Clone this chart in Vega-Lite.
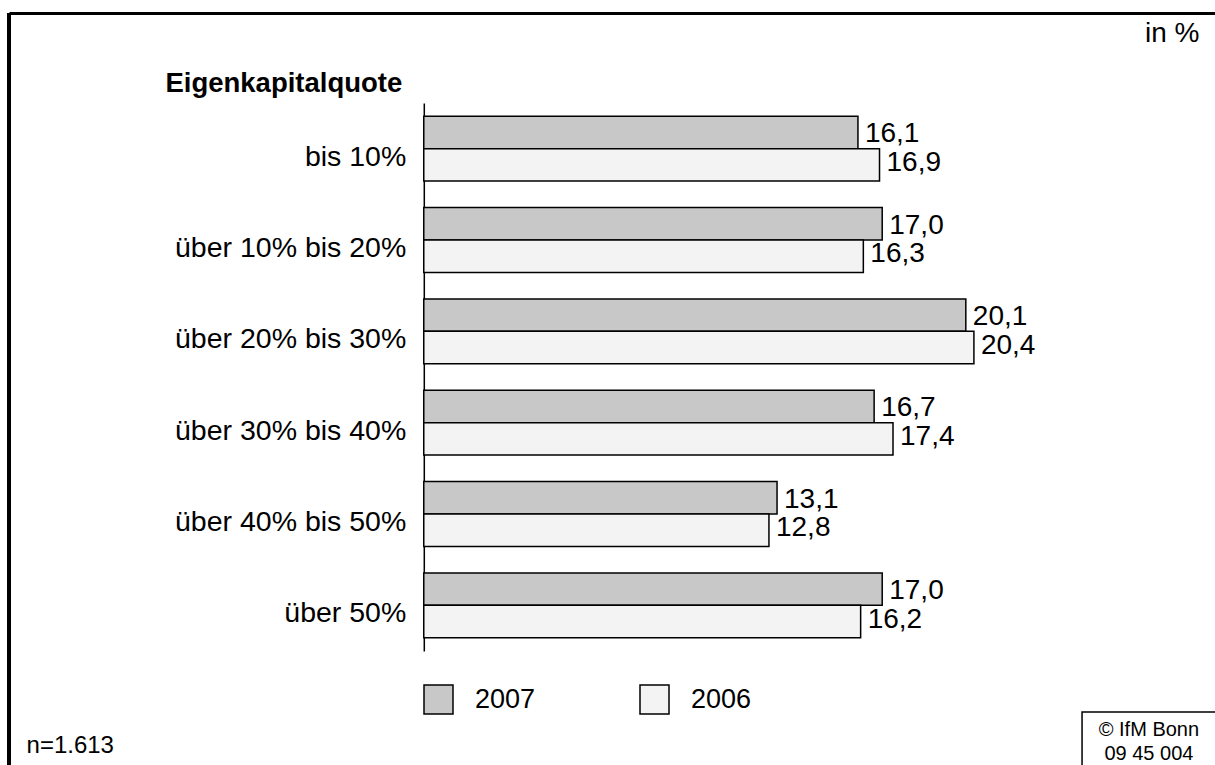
{
  "$schema": "https://vega.github.io/schema/vega-lite/v6.json",
  "width": 1206,
  "height": 752,
  "autosize": {"type": "none"},
  "padding": {"left": 9, "top": 13, "right": 0, "bottom": 0},
  "background": "white",
  "config": {
    "view": {"stroke": null},
    "font": "Liberation Sans",
    "locale": {"number": {"decimal": ",", "thousands": ".", "grouping": [3], "currency": ["", " €"]}},
    "text": {"color": "black"}
  },
  "layer": [
    {
      "data": {"values": [
        {"cat": "bis 10%", "year": "2007", "value": 16.1},
        {"cat": "bis 10%", "year": "2006", "value": 16.9},
        {"cat": "über 10% bis 20%", "year": "2007", "value": 17.0},
        {"cat": "über 10% bis 20%", "year": "2006", "value": 16.3},
        {"cat": "über 20% bis 30%", "year": "2007", "value": 20.1},
        {"cat": "über 20% bis 30%", "year": "2006", "value": 20.4},
        {"cat": "über 30% bis 40%", "year": "2007", "value": 16.7},
        {"cat": "über 30% bis 40%", "year": "2006", "value": 17.4},
        {"cat": "über 40% bis 50%", "year": "2007", "value": 13.1},
        {"cat": "über 40% bis 50%", "year": "2006", "value": 12.8},
        {"cat": "über 50%", "year": "2007", "value": 17.0},
        {"cat": "über 50%", "year": "2006", "value": 16.2}
      ]},
      "layer": [
        {
          "mark": {"type": "bar", "stroke": "black", "strokeWidth": 1.5},
          "encoding": {
            "x": {
              "field": "value", "type": "quantitative",
              "scale": {"domain": [-15.38, 29.34], "nice": false, "zero": false},
              "axis": {
                "orient": "top", "title": "in %", "domain": true, "domainColor": "black", "domainWidth": 3,
                "ticks": false, "labels": false, "grid": false,
                "titleX": 1190, "titleY": 28, "titleAlign": "right", "titleBaseline": "alphabetic",
                "titleFontSize": 28, "titleFontWeight": "normal", "titleColor": "black", "titleFont": "Liberation Sans"
              }
            },
            "y": {
              "field": "cat", "type": "nominal", "sort": null,
              "scale": {
                "domain": ["bis 10%", "über 10% bis 20%", "über 20% bis 30%", "über 30% bis 40%", "über 40% bis 50%", "über 50%"],
                "range": [90, 638], "paddingInner": 0.29, "paddingOuter": 0.145
              },
              "axis": {
                "orient": "left", "offset": -414.8, "title": "Eigenkapitalquote", "titleAngle": 0,
                "titleX": -22, "titleY": 78, "titleAlign": "right", "titleBaseline": "alphabetic",
                "titleFontWeight": "bold", "titleFontSize": 27.5, "titleColor": "black", "titleFont": "Liberation Sans",
                "labelFontSize": 28.5, "labelPadding": 18, "labelOffset": 8, "labelColor": "black", "labelLimit": 500, "labelFont": "Liberation Sans",
                "ticks": false, "domainColor": "black", "domainWidth": 1.5, "grid": false
              }
            },
            "yOffset": {"field": "year", "type": "nominal", "sort": ["2007", "2006"], "scale": {"domain": ["2007", "2006"]}},
            "color": {
              "field": "year", "type": "nominal", "sort": ["2007", "2006"],
              "scale": {"domain": ["2007", "2006"], "range": ["#c8c8c8", "#f3f3f3"]},
              "legend": {
                "orient": "none", "legendX": 414, "legendY": 671, "direction": "horizontal", "title": null,
                "padding": 0, "symbolType": "square", "symbolSize": 841, "symbolStrokeColor": "black",
                "symbolStrokeWidth": 1.5, "symbolOpacity": 1, "labelFontSize": 27, "labelOffset": 21,
                "columnPadding": 101, "labelColor": "black", "labelFont": "Liberation Sans"
              }
            }
          }
        },
        {
          "transform": [{"filter": "datum.year == '2007'"}],
          "mark": {"type": "text", "align": "left", "baseline": "middle", "dx": 7, "dy": 2, "fontSize": 28},
          "encoding": {
            "x": {"field": "value", "type": "quantitative", "scale": {"domain": [-15.38, 29.34], "nice": false, "zero": false}},
            "y": {"field": "cat", "type": "nominal", "sort": null, "scale": {"domain": ["bis 10%", "über 10% bis 20%", "über 20% bis 30%", "über 30% bis 40%", "über 40% bis 50%", "über 50%"]}},
            "yOffset": {"field": "year", "type": "nominal", "sort": ["2007", "2006"], "scale": {"domain": ["2007", "2006"]}},
            "text": {"field": "value", "type": "quantitative", "format": ".1f"}
          }
        },
        {
          "transform": [{"filter": "datum.year == '2006'"}],
          "mark": {"type": "text", "align": "left", "baseline": "middle", "dx": 7, "dy": -2, "fontSize": 28},
          "encoding": {
            "x": {"field": "value", "type": "quantitative", "scale": {"domain": [-15.38, 29.34], "nice": false, "zero": false}},
            "y": {"field": "cat", "type": "nominal", "sort": null, "scale": {"domain": ["bis 10%", "über 10% bis 20%", "über 20% bis 30%", "über 30% bis 40%", "über 40% bis 50%", "über 50%"]}},
            "yOffset": {"field": "year", "type": "nominal", "sort": ["2007", "2006"], "scale": {"domain": ["2007", "2006"]}},
            "text": {"field": "value", "type": "quantitative", "format": ".1f"}
          }
        },
        {
          "mark": {"type": "rule", "stroke": "black", "strokeWidth": 3},
          "encoding": {
            "x": {"datum": -15.38, "type": "quantitative", "scale": {"domain": [-15.38, 29.34], "nice": false, "zero": false}}
          }
        }
      ]
    },
    {
      "layer": [
        {
          "data": {"values": [{"note": "n=1.613"}]},
          "mark": {"type": "text", "align": "left", "baseline": "alphabetic", "fontSize": 24},
          "encoding": {
            "x": {"datum": -14.73, "type": "quantitative", "scale": {"domain": [-15.38, 29.34], "nice": false, "zero": false}},
            "y": {"datum": 98.4, "type": "quantitative", "scale": {"domain": [0, 100], "reverse": true, "nice": false, "zero": false}, "axis": null},
            "text": {"field": "note"}
          }
        },
        {
          "data": {"values": [{"note": "© IfM Bonn"}]},
          "mark": {"type": "rect", "fill": "white", "stroke": "black", "strokeWidth": 1.5},
          "encoding": {
            "x": {"datum": 24.41, "type": "quantitative", "scale": {"domain": [-15.38, 29.34], "nice": false, "zero": false}},
            "x2": {"datum": 31},
            "y": {"datum": 92.95, "type": "quantitative", "scale": {"domain": [0, 100], "reverse": true, "nice": false, "zero": false}, "axis": null},
            "y2": {"datum": 105}
          }
        },
        {
          "data": {"values": [{"note": "© IfM Bonn"}]},
          "mark": {"type": "text", "align": "center", "baseline": "alphabetic", "fontSize": 20},
          "encoding": {
            "x": {"datum": 26.89, "type": "quantitative", "scale": {"domain": [-15.38, 29.34], "nice": false, "zero": false}},
            "y": {"datum": 96.2, "type": "quantitative", "scale": {"domain": [0, 100], "reverse": true, "nice": false, "zero": false}, "axis": null},
            "text": {"field": "note"}
          }
        },
        {
          "data": {"values": [{"note": "09  45  004"}]},
          "mark": {"type": "text", "align": "center", "baseline": "alphabetic", "fontSize": 20},
          "encoding": {
            "x": {"datum": 26.89, "type": "quantitative", "scale": {"domain": [-15.38, 29.34], "nice": false, "zero": false}},
            "y": {"datum": 99.3, "type": "quantitative", "scale": {"domain": [0, 100], "reverse": true, "nice": false, "zero": false}, "axis": null},
            "text": {"field": "note"}
          }
        }
      ]
    }
  ],
  "resolve": {"scale": {"y": "independent"}}
}
